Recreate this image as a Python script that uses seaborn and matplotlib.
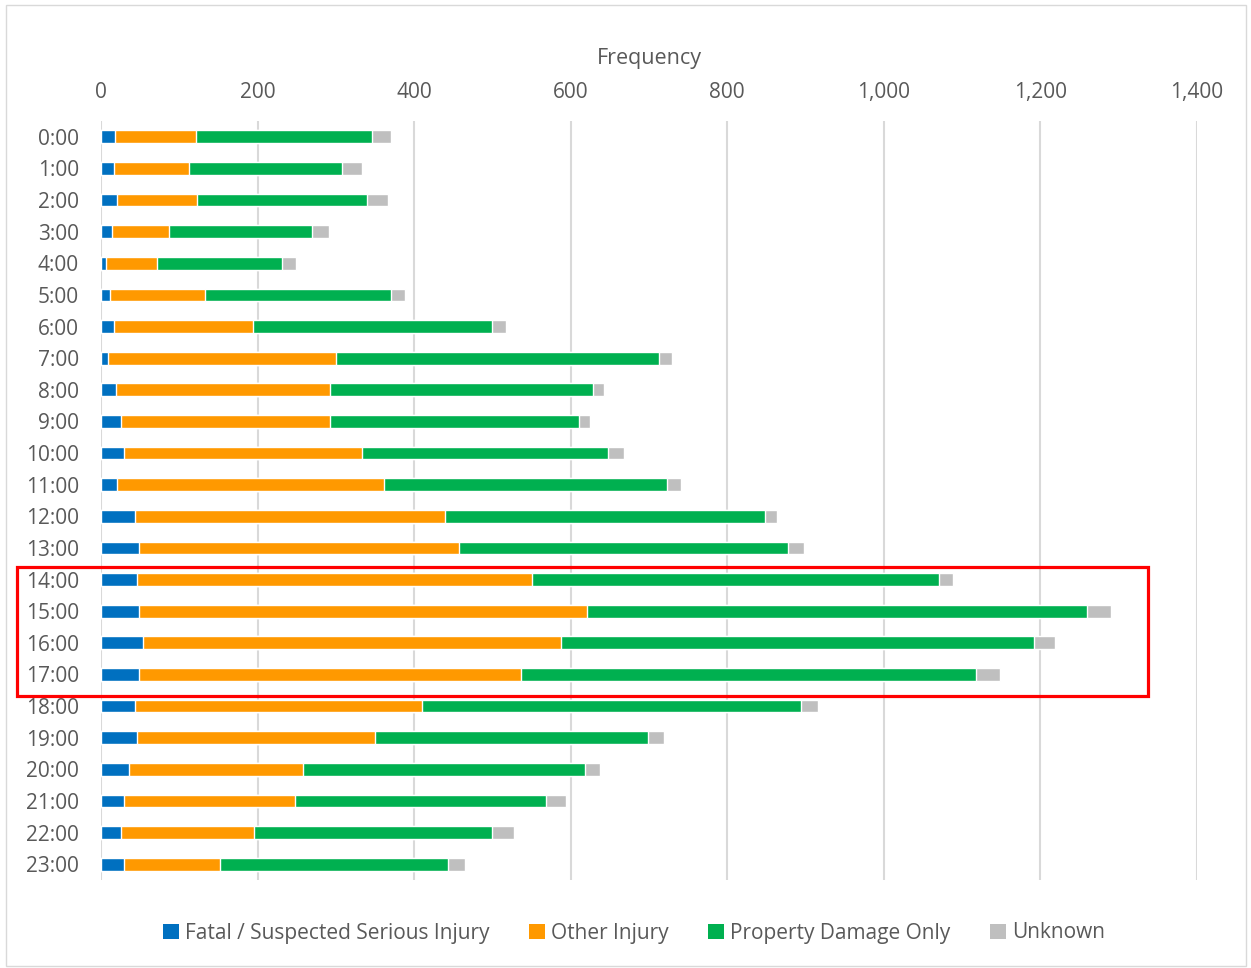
import numpy as np
import pandas as pd
import matplotlib
matplotlib.use('Agg')
import matplotlib.pyplot as plt
import seaborn as sns
from matplotlib.patches import Rectangle, Patch

# data
hours = ['%d:00' % h for h in range(24)]
fatal = [18, 17, 21, 14, 6, 12, 17, 9, 19, 26, 29, 21, 43, 49, 46, 49, 54, 48, 43, 46, 36, 29, 26, 29]
other = [103, 96, 102, 73, 65, 121, 177, 291, 273, 267, 305, 341, 397, 408, 504, 572, 533, 488, 367, 304, 222, 219, 170, 123]
pdo = [225, 195, 217, 183, 160, 237, 306, 413, 337, 317, 313, 361, 408, 421, 521, 639, 605, 582, 484, 349, 360, 321, 303, 291]
unknown = [24, 26, 27, 21, 18, 18, 17, 16, 14, 14, 21, 18, 15, 20, 17, 30, 26, 30, 22, 20, 20, 25, 29, 22]

series = ['Fatal / Suspected Serious Injury', 'Other Injury', 'Property Damage Only', 'Unknown']
colors = ['#0070C0', '#FF9900', '#00B050', '#BFBFBF']

df = pd.DataFrame({'hour': hours, 'fatal': fatal, 'other': other, 'pdo': pdo, 'unknown': unknown})
cols = ['fatal', 'other', 'pdo', 'unknown']
cum = df[cols].cumsum(axis=1)

sns.set_style('white')
plt.rcParams['font.family'] = ['Open Sans', 'DejaVu Sans']
text_col = '#595959'

fig = plt.figure(figsize=(12.51, 9.68), dpi=100)
ax = fig.add_axes([101 / 1251, 1 - 880 / 968, (1197 - 101) / 1251, (880 - 121) / 968])

# stacked bars: draw cumulative totals from the outermost segment inwards
for c, col in reversed(list(zip(colors, cols))):
    sns.barplot(x=cum[col], y=df['hour'], orient='h', color=c, width=0.4,
                saturation=1, ax=ax, zorder=3)

ax.set_xlim(0, 1400)
ax.set_ylim(23.5, -0.5)
ax.set_xticks(np.arange(0, 1401, 200))
ax.xaxis.set_major_formatter(matplotlib.ticker.FuncFormatter(lambda v, p: f'{int(v):,}'))
ax.xaxis.tick_top()
ax.xaxis.set_label_position('top')
ax.set_xlabel('Frequency', fontsize=15.5, color=text_col, labelpad=13)
ax.set_ylabel('')
ax.tick_params(axis='x', length=0, pad=13, labelsize=15, labelcolor=text_col)
ax.tick_params(axis='y', length=0, pad=16, labelsize=15, labelcolor=text_col)
ax.grid(axis='x', color='#D9D9D9', lw=1.5, zorder=0)
ax.set_axisbelow(True)
for s in ax.spines.values():
    s.set_visible(False)

handles = [Patch(facecolor=c, edgecolor='none', label=s) for c, s in zip(colors, series)]
fig.legend(handles=handles, loc='center', bbox_to_anchor=(634 / 1251, 1 - 933 / 968), ncol=4,
           frameon=False, fontsize=15, labelcolor=text_col, handlelength=0.75, handleheight=0.75,
           handletextpad=0.3, columnspacing=1.9)

# red highlight box around 14:00-17:00
fig.patches.append(Rectangle((17 / 1251, 1 - 696 / 968), (1148 - 17) / 1251, (696 - 567) / 968,
                             transform=fig.transFigure, fill=False, edgecolor='#FF0000', lw=2.3, zorder=10))
# chart border
fig.patches.append(Rectangle((6 / 1251, 2 / 968), (1246 - 6) / 1251, (965 - 4) / 968,
                             transform=fig.transFigure, fill=False, edgecolor='#D9D9D9', lw=1, zorder=10))

fig.savefig('out.png', dpi=100)
